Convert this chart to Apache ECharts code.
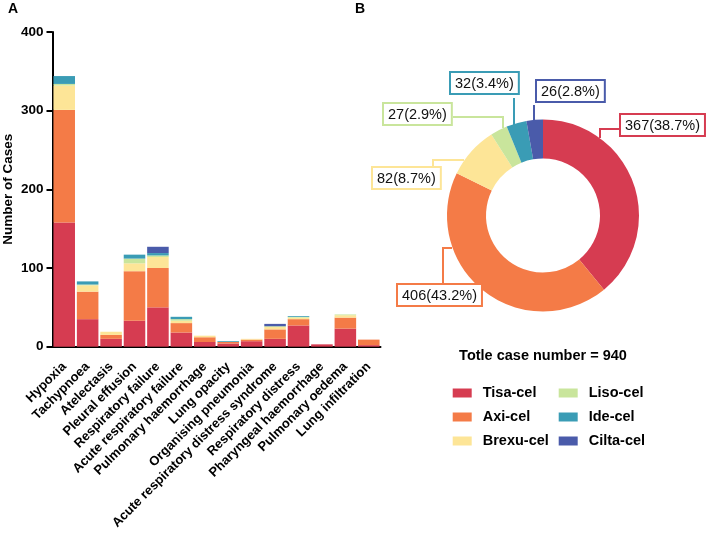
<!DOCTYPE html>
<html>
<head>
<meta charset="utf-8">
<script src="https://cdn.jsdelivr.net/npm/echarts@6/dist/echarts.min.js"></script>
<style>
html,body{margin:0;padding:0;background:#fff;}
#c{width:708px;height:533px;}
</style>
</head>
<body>
<div id="c"></div>
<script>
const categories = ['Hypoxia','Tachypnoea','Atelectasis','Pleural effusion','Respiratory failure','Acute respiratory failure','Pulmonary haemorrhage','Lung opacity','Organising pneumonia','Acute respiratory distress syndrome','Respiratory distress','Pharyngeal haemorrhage','Pulmonary oedema','Lung infiltration'];
const products = ['Tisa-cel','Axi-cel','Brexu-cel','Liso-cel','Ide-cel','Cilta-cel'];
const tisa  = [158,35,10,33,50,18,6,4,7,10,27,3,23,2];
const axi   = [143,35,5,63,50,12,6,2,2,12,8,0,14,7];
const brexu = [31,8,4,10,14,3,2,0,1,3,2,0,3,0];
const liso  = [2,1,0,6,2,2,0,0,0,1,1,0,1,0];
const ide   = [10,4,0,5,3,3,0,1,0,0,1,0,0,0];
const cilta = [0,0,0,0,8,0,0,0,0,3,0,0,0,0];
const totals = [367,406,82,27,32,26];
const totalPct = [38.7,43.2,8.7,2.9,3.4,2.8];
const yTicks = [0,100,200,300,400];

const colors = ['#D63C51','#F47B47','#FDE597','#C9E59C','#3A9CB5','#4A5BAA'];
const barSeriesValues = [tisa, axi, brexu, liso, ide, cilta];
const FONT = 'Liberation Sans, Arial, Helvetica, sans-serif';

const chart = echarts.init(document.getElementById('c'), null, {renderer:'canvas'});

const cx = 543, cy = 215.5;
// label box top-left positions and leader line points (layout only)
const boxPos = [[621,115],[398,285],[373,168],[384,104],[451,73],[537,81]];
const linePts = [
  [[600,138],[600,129],[621,129]],
  [[452,248],[443,248],[443,285]],
  [[464,160],[433,160],[433,168]],
  [[503,128],[503,117],[453,117]],
  [[514,125],[514,111],[514,98]],
  [[534,121],[534,113],[534,105]]
];

const series = barSeriesValues.map((vals, i) => ({
  name: products[i],
  type: 'bar',
  stack: 'total',
  barWidth: '92%',
  itemStyle: {color: colors[i]},
  data: vals,
  xAxisIndex: 0,
  yAxisIndex: 0
}));

series.push({
  type: 'pie',
  center: [cx, cy],
  radius: [57, 96],
  startAngle: 90,
  clockwise: true,
  avoidLabelOverlap: false,
  percentPrecision: 1,
  data: products.map((p, i) => ({
    name: p,
    value: totals[i],
    itemStyle: {color: colors[i]},
    label: {borderColor: colors[i]},
    labelLine: {lineStyle: {color: colors[i]}}
  })),
  label: {
    show: true,
    position: 'outside',
    formatter: (p) => p.value + '(' + totalPct[p.dataIndex].toFixed(1) + '%)',
    fontFamily: FONT,
    fontSize: 14.5,
    color: '#111',
    backgroundColor: '#fff',
    borderWidth: 2,
    padding: [3, 4, 2, 4]
  },
  labelLine: {show: true, lineStyle: {width: 2}},
  labelLayout: (params) => {
    const i = params.dataIndex;
    return {
      x: boxPos[i][0],
      y: boxPos[i][1],
      align: 'left',
      verticalAlign: 'top',
      labelLinePoints: linePts[i]
    };
  },
  emphasis: {disabled: true}
});

const option = {
  animation: false,
  backgroundColor: '#fff',
  textStyle: {fontFamily: FONT},
  grid: {left: 52.5, top: 32, width: 328, height: 314.7, containLabel: false},
  xAxis: {
    type: 'category',
    data: categories,
    boundaryGap: true,
    axisLine: {lineStyle: {color: '#000', width: 2}},
    axisTick: {alignWithLabel: true, length: 5, lineStyle: {color: '#000', width: 2}},
    axisLabel: {
      interval: 0,
      rotate: 45,
      margin: 18,
      fontSize: 13,
      fontWeight: 'bold',
      color: '#000',
      fontFamily: FONT
    }
  },
  yAxis: {
    type: 'value',
    min: yTicks[0],
    max: yTicks[yTicks.length - 1],
    interval: 100,
    name: 'Number of Cases',
    nameLocation: 'middle',
    nameGap: 37,
    nameRotate: 90,
    nameTextStyle: {fontSize: 13.5, fontWeight: 'bold', color: '#000', fontFamily: FONT},
    axisLine: {show: true, lineStyle: {color: '#000', width: 2}},
    axisTick: {show: true, length: 6, lineStyle: {color: '#000', width: 2}},
    axisLabel: {margin: 9, fontSize: 13.5, fontWeight: 'bold', color: '#000', fontFamily: FONT},
    splitLine: {show: false}
  },
  legend: [
    {
      data: products.slice(0, 3),
      orient: 'vertical',
      left: 452.7,
      top: 385,
      padding: 0,
      itemGap: 8,
      itemWidth: 19,
      itemHeight: 9,
      icon: 'rect',
      selectedMode: false,
      textStyle: {fontSize: 14.5, fontWeight: 'bold', color: '#000', fontFamily: FONT, lineHeight: 16, padding: [0,0,0,6]}
    },
    {
      data: products.slice(3),
      orient: 'vertical',
      left: 558.7,
      top: 385,
      padding: 0,
      itemGap: 8,
      itemWidth: 19,
      itemHeight: 9,
      icon: 'rect',
      selectedMode: false,
      textStyle: {fontSize: 14.5, fontWeight: 'bold', color: '#000', fontFamily: FONT, lineHeight: 16, padding: [0,0,0,6]}
    }
  ],
  graphic: [
    {type: 'text', x: 13, y: 9, style: {text: 'A', fill: '#000', font: 'bold 14px ' + FONT, textAlign: 'center', textVerticalAlign: 'middle'}},
    {type: 'text', x: 360, y: 9, style: {text: 'B', fill: '#000', font: 'bold 14px ' + FONT, textAlign: 'center', textVerticalAlign: 'middle'}},
    {type: 'text', x: 543, y: 356, style: {text: 'Totle case number = ' + totals.reduce((a,b)=>a+b,0), fill: '#000', font: 'bold 14.5px ' + FONT, textAlign: 'center', textVerticalAlign: 'middle'}}
  ],
  series: series
};

chart.setOption(option);
</script>
</body>
</html>
